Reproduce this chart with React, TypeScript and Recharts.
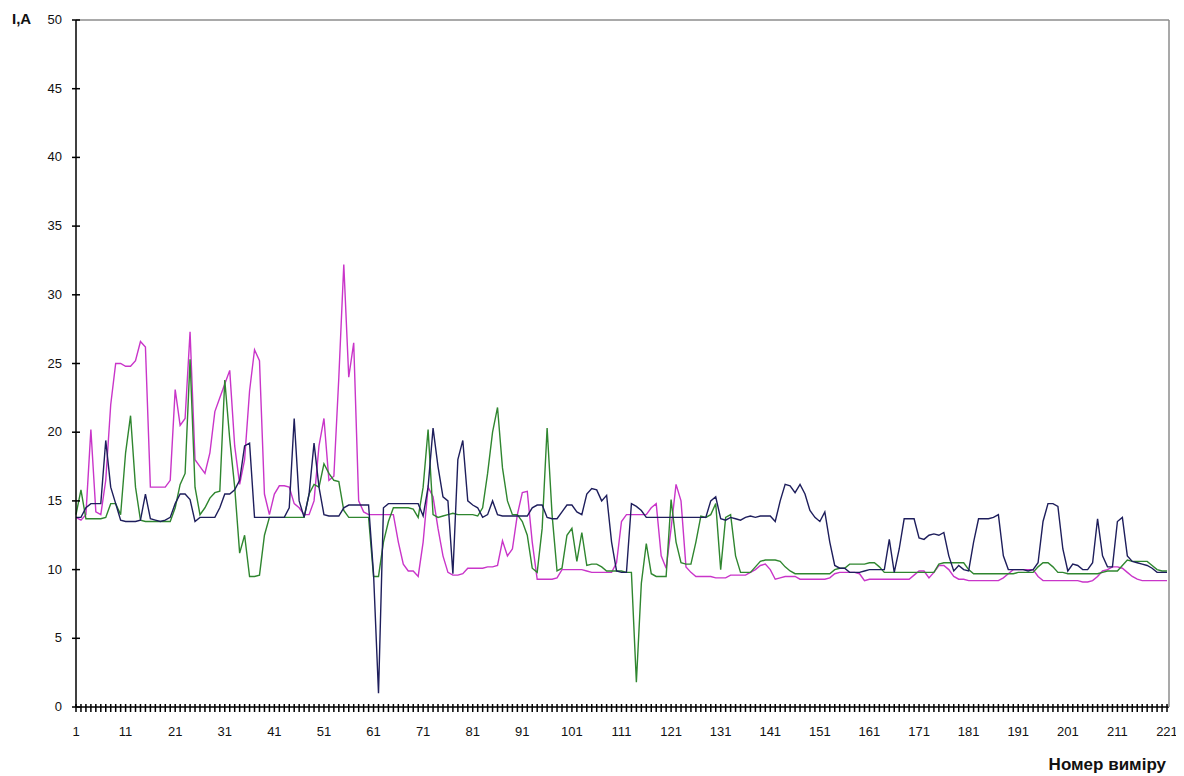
import { LineChart, Line, XAxis, YAxis } from 'recharts'

// струм по фазах, А (221 вимір)
const phaseA = [
  13.8, 13.6, 14, 20.2, 14.2, 14, 16.5, 22, 25, 25,
  24.8, 24.8, 25.2, 26.6, 26.2, 16, 16, 16, 16, 16.5,
  23.1, 20.5, 21, 27.3, 18, 17.5, 17, 18.5, 21.5, 22.5,
  23.5, 24.5, 19, 16.2, 18, 23, 26, 25.2, 15.5, 14,
  15.5, 16.1, 16.1, 16, 14.8, 14.5, 14, 14, 15, 19,
  21, 16.5, 16.8, 24, 32.2, 24, 26.5, 15, 14.2, 14,
  14, 14, 14, 14, 14, 12, 10.4, 9.9, 9.9, 9.5,
  12, 16, 15.3, 13, 11, 9.8, 9.6, 9.6, 9.7, 10.1,
  10.1, 10.1, 10.1, 10.2, 10.2, 10.3, 12.1, 11, 11.5, 14,
  15.6, 15.7, 12, 9.3, 9.3, 9.3, 9.3, 9.4, 10, 10,
  10, 10, 10, 9.9, 9.8, 9.8, 9.8, 9.8, 9.8, 10.5,
  13.5, 14, 14, 14, 14, 14, 14.5, 14.8, 11, 10.1,
  13, 16.2, 15, 10.2, 9.8, 9.5, 9.5, 9.5, 9.5, 9.4,
  9.4, 9.4, 9.6, 9.6, 9.6, 9.6, 9.8, 10, 10.3, 10.4,
  10, 9.3, 9.4, 9.5, 9.5, 9.5, 9.3, 9.3, 9.3, 9.3,
  9.3, 9.3, 9.4, 9.7, 9.8, 9.8, 9.8, 9.8, 9.7, 9.2,
  9.3, 9.3, 9.3, 9.3, 9.3, 9.3, 9.3, 9.3, 9.3, 9.6,
  9.9, 9.9, 9.4, 9.8, 10.3, 10.3, 10, 9.5, 9.3, 9.3,
  9.2, 9.2, 9.2, 9.2, 9.2, 9.2, 9.2, 9.4, 9.7, 10,
  10, 10, 10, 10, 9.5, 9.2, 9.2, 9.2, 9.2, 9.2,
  9.2, 9.2, 9.2, 9.1, 9.1, 9.2, 9.5, 9.9, 10, 10.2,
  10.2, 10.1, 9.8, 9.5, 9.3, 9.2, 9.2, 9.2, 9.2, 9.2, 9.2,
]

const phaseB = [
  14, 15.8, 13.7, 13.7, 13.7, 13.7, 13.8, 14.8, 14.8, 14,
  18.5, 21.2, 16, 13.6, 13.5, 13.5, 13.5, 13.5, 13.5, 13.5,
  14.5, 16.2, 17, 25.3, 16, 14, 14.5, 15.2, 15.6, 15.7,
  23.8, 19.5, 16, 11.2, 12.5, 9.5, 9.5, 9.6, 12.5, 13.8,
  13.8, 13.8, 13.8, 13.8, 13.8, 13.8, 13.8, 15.5, 16.2, 16,
  17.7, 17, 16.5, 16.4, 14.3, 13.8, 13.8, 13.8, 13.8, 13.8,
  9.5, 9.5, 12, 13.5, 14.5, 14.5, 14.5, 14.5, 14.4, 13.8,
  16, 20.2, 14, 13.8, 13.9, 14, 14.1, 14, 14, 14,
  14, 13.9, 14.5, 17, 20, 21.8, 17.4, 15, 14, 14,
  13.5, 12.5, 10.1, 9.8, 13, 20.3, 14, 9.9, 10.1, 12.5,
  13, 10.6, 12.7, 10.3, 10.4, 10.4, 10.2, 9.9, 9.9, 9.9,
  9.9, 9.8, 9.8, 1.8, 9, 11.9, 9.7, 9.5, 9.5, 9.5,
  15.1, 12, 10.5, 10.4, 10.4, 12, 13.9, 13.8, 14, 14.8,
  10, 13.8, 14, 11, 9.8, 9.8, 9.8, 10.2, 10.6, 10.7,
  10.7, 10.7, 10.6, 10.2, 9.9, 9.7, 9.7, 9.7, 9.7, 9.7,
  9.7, 9.7, 9.7, 10, 10.1, 10.1, 10.4, 10.4, 10.4, 10.4,
  10.5, 10.5, 10.2, 9.8, 9.8, 9.8, 9.8, 9.8, 9.8, 9.8,
  9.8, 9.8, 9.8, 9.8, 10.4, 10.5, 10.5, 10.5, 10.5, 10.5,
  10, 9.7, 9.7, 9.7, 9.7, 9.7, 9.7, 9.7, 9.7, 9.7,
  9.8, 9.8, 9.8, 9.8, 10.2, 10.5, 10.5, 10.2, 9.8, 9.8,
  9.7, 9.7, 9.7, 9.7, 9.7, 9.7, 9.7, 9.8, 9.9, 9.9,
  9.9, 10.3, 10.7, 10.6, 10.6, 10.6, 10.6, 10.3, 10, 9.9, 9.9,
]

const phaseC = [
  13.8, 13.8, 14.5, 14.8, 14.8, 14.8, 19.4, 16, 14.8, 13.6,
  13.5, 13.5, 13.5, 13.6, 15.5, 13.7, 13.6, 13.5, 13.6, 13.8,
  14.8, 15.5, 15.5, 15.1, 13.5, 13.8, 13.8, 13.8, 13.8, 14.5,
  15.5, 15.5, 15.8, 16.5, 19, 19.2, 13.8, 13.8, 13.8, 13.8,
  13.8, 13.8, 13.8, 14.5, 21, 15, 13.8, 15.5, 19.2, 16,
  14, 13.9, 13.9, 13.9, 14.5, 14.7, 14.7, 14.7, 14.7, 14.7,
  9.7, 1, 14.5, 14.8, 14.8, 14.8, 14.8, 14.8, 14.8, 14.8,
  13.9, 16, 20.3, 17.5, 15.3, 15, 9.7, 18, 19.4, 15,
  14.7, 14.5, 13.8, 14, 15, 14, 13.9, 13.9, 13.9, 13.9,
  13.9, 13.9, 14.5, 14.7, 14.7, 13.8, 13.7, 13.7, 14.2, 14.7,
  14.7, 14.2, 14, 15.5, 15.9, 15.8, 15, 15.4, 12, 9.9,
  9.8, 9.8, 14.8, 14.6, 14.3, 13.8, 13.8, 13.8, 13.8, 13.8,
  13.8, 13.8, 13.8, 13.8, 13.8, 13.8, 13.8, 13.8, 15, 15.3,
  13.7, 13.6, 13.8, 13.7, 13.6, 13.8, 13.9, 13.8, 13.9, 13.9,
  13.9, 13.5, 15, 16.2, 16.1, 15.6, 16.2, 15.5, 14.3, 13.8,
  13.5, 14.2, 12, 10.3, 10.1, 10.1, 9.8, 9.8, 9.8, 9.9,
  10, 10, 10, 10, 12.2, 9.8, 11.5, 13.7, 13.7, 13.7,
  12.3, 12.2, 12.5, 12.6, 12.5, 12.7, 11, 9.9, 10.3, 10,
  9.9, 12, 13.7, 13.7, 13.7, 13.8, 14, 11, 10, 10,
  10, 10, 9.9, 10, 10.5, 13.5, 14.8, 14.8, 14.6, 11.5,
  9.9, 10.4, 10.3, 10, 10, 10.5, 13.7, 11, 10.2, 10.2,
  13.5, 13.8, 11, 10.6, 10.5, 10.4, 10.3, 10.1, 9.8, 9.8, 9.8,
]

const yTicks = [0, 5, 10, 15, 20, 25, 30, 35, 40, 45, 50]
const labelEvery = 10

const data = phaseA.map((a, i) => ({
  n: i + 1,
  a,
  b: phaseB[i],
  c: phaseC[i],
}))

const font = '"Liberation Sans", Arial, sans-serif'

// the tick marks cross the axis, so they are drawn here together with the label
function XTick(props: any) {
  const { x, y, payload } = props
  const showLabel = (payload.value - 1) % labelEvery === 0
  return (
    <g>
      <rect x={x - 0.75} y={y - 3} width={1.5} height={8} fill="#000" />
      {showLabel && (
        <text x={x} y={y + 29} textAnchor="middle" fontSize={13} fill="#111" fontFamily={font}>
          {payload.value}
        </text>
      )}
    </g>
  )
}

function YTick(props: any) {
  const { x, y, payload } = props
  return (
    <g>
      <rect x={x - 4} y={y - 0.75} width={8} height={1.5} fill="#000" />
      <text x={x - 14} y={y + 4} textAnchor="end" fontSize={13} fill="#111" fontFamily={font}>
        {payload.value}
      </text>
    </g>
  )
}

export default function App() {
  return (
    <div style={{ position: 'relative', width: 1176, height: 768, background: '#fff' }}>
      <LineChart
        width={1176}
        height={768}
        data={data}
        margin={{ top: 11, right: 14, left: 0, bottom: 0 }}
      >
        <XAxis
          dataKey="n"
          interval={0}
          height={69}
          tickSize={0}
          tickMargin={0}
          tickLine={false}
          tick={<XTick />}
          axisLine={{ stroke: '#000', strokeWidth: 1.5 }}
          padding={{ left: 0, right: 2 }}
        />
        <XAxis
          xAxisId="top"
          orientation="top"
          dataKey="n"
          height={1}
          tick={false}
          tickLine={false}
          axisLine={{ stroke: '#8c8c8c', strokeWidth: 1.5 }}
        />
        <YAxis
          domain={[0, 50]}
          ticks={yTicks}
          interval={0}
          width={68}
          tickSize={0}
          tickMargin={0}
          tickLine={false}
          tick={<YTick />}
          axisLine={{ stroke: '#000', strokeWidth: 1.5 }}
        />
        <YAxis
          yAxisId="right"
          orientation="right"
          width={1}
          tick={false}
          tickLine={false}
          axisLine={{ stroke: '#8c8c8c', strokeWidth: 1.5 }}
        />
        <Line type="linear" dataKey="a" stroke="#C935C9" strokeWidth={1.4} dot={false} isAnimationActive={false} />
        <Line type="linear" dataKey="b" stroke="#2F862F" strokeWidth={1.4} dot={false} isAnimationActive={false} />
        <Line type="linear" dataKey="c" stroke="#1E1E5C" strokeWidth={1.4} dot={false} isAnimationActive={false} />
      </LineChart>
      <div
        style={{
          position: 'absolute',
          left: 4,
          top: 2,
          fontFamily: font,
          fontWeight: 'bold',
          fontSize: 15,
          color: '#111',
        }}
      >
        I,A
      </div>
      <div
        style={{
          position: 'absolute',
          right: 18,
          bottom: 1,
          fontFamily: font,
          fontWeight: 'bold',
          fontSize: 17,
          color: '#111',
        }}
      >
        Номер виміру
      </div>
    </div>
  )
}
